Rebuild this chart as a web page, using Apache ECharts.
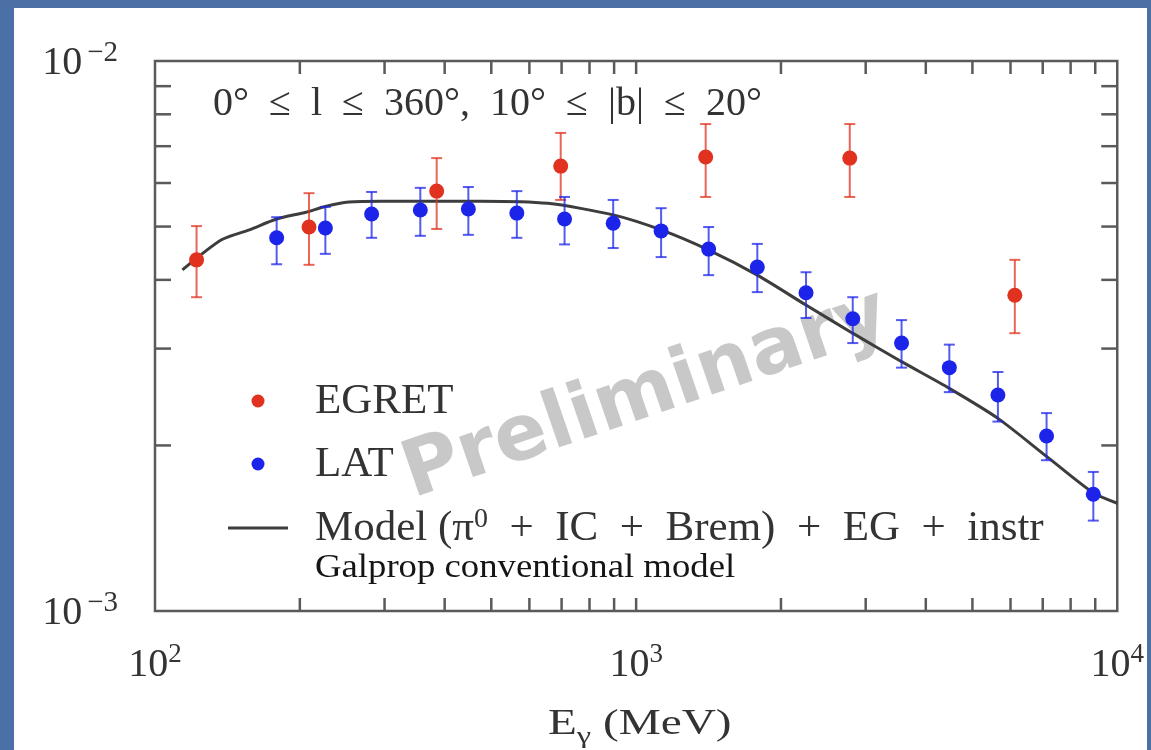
<!DOCTYPE html>
<html>
<head>
<meta charset="utf-8">
<script src="https://cdn.jsdelivr.net/npm/echarts@6/dist/echarts.min.js"></script>
<style>
  html, body { margin: 0; padding: 0; width: 1151px; height: 750px; overflow: hidden; background: #4a70a6; }
  #chart { position: absolute; left: 14px; top: 8px; width: 1133px; height: 742px; background: #ffffff; }
</style>
</head>
<body>
<div id="chart"></div>
<script>
// EGRET measurements: energy (MeV), flux, error-bar low / high
const egretE  = [122, 209, 385, 697, 1395, 2780, 6125];
const egretF  = [4.35e-3, 4.99e-3, 5.80e-3, 6.44e-3, 6.69e-3, 6.66e-3, 3.75e-3];
const egretLo = [3.72e-3, 4.26e-3, 4.95e-3, 5.59e-3, 5.66e-3, 5.66e-3, 3.20e-3];
const egretHi = [5.01e-3, 5.75e-3, 6.66e-3, 7.40e-3, 7.68e-3, 7.68e-3, 4.35e-3];

// LAT measurements
const latE  = [179, 226, 282, 356, 448, 565, 710, 896, 1127, 1415, 1786, 2255, 2820, 3562, 4477, 5649, 7130, 8918];
const latF  = [4.77e-3, 4.97e-3, 5.27e-3, 5.36e-3, 5.38e-3, 5.29e-3, 5.16e-3, 5.07e-3, 4.91e-3,
               4.55e-3, 4.22e-3, 3.79e-3, 3.40e-3, 3.07e-3, 2.77e-3, 2.47e-3, 2.08e-3, 1.63e-3];
const latLo = [4.27e-3, 4.46e-3, 4.77e-3, 4.81e-3, 4.83e-3, 4.77e-3, 4.64e-3, 4.57e-3, 4.40e-3,
               4.08e-3, 3.80e-3, 3.41e-3, 3.07e-3, 2.77e-3, 2.50e-3, 2.21e-3, 1.88e-3, 1.46e-3];
const latHi = [5.20e-3, 5.43e-3, 5.78e-3, 5.88e-3, 5.90e-3, 5.80e-3, 5.66e-3, 5.59e-3, 5.40e-3,
               4.99e-3, 4.65e-3, 4.13e-3, 3.72e-3, 3.38e-3, 3.05e-3, 2.72e-3, 2.29e-3, 1.79e-3];

// Model curve (pi0 + IC + Brem + EG + instr)
const modelE = [114, 137.5, 157, 179, 206, 226, 253, 296, 348, 476, 655, 896, 1127, 1416,
                1786, 2254, 2818, 3563, 4477, 5650, 7130, 8913, 10000];
const modelF = [4.17e-3, 4.73e-3, 4.93e-3, 5.16e-3, 5.31e-3, 5.44e-3, 5.54e-3, 5.56e-3, 5.56e-3,
                5.56e-3, 5.51e-3, 5.25e-3, 4.93e-3, 4.53e-3, 4.08e-3, 3.60e-3, 3.20e-3, 2.84e-3,
                2.54e-3, 2.24e-3, 1.91e-3, 1.64e-3, 1.57e-3];

// Axis ranges and tick positions
const X_MIN = 100, X_MAX = 10000;
const Y_MIN = 0.001, Y_MAX = 0.01;
const xTicks = [200, 300, 400, 500, 600, 700, 800, 900, 1000, 2000, 3000, 4000, 5000, 6000, 7000, 8000, 9000];
const yTicks = [0.002, 0.003, 0.004, 0.005, 0.006, 0.007, 0.008, 0.009];

const SERIF = '"Liberation Serif", "Times New Roman", serif';
const TXT = '#333333';
const AX = '#5a5a5a';
const RED = '#e0321f';
const BLUE = '#1b24e8';
const LINE = '#3d3d3d';

const chart = echarts.init(document.getElementById('chart'), null, { renderer: 'canvas' });

function errorBarItem(color, r) {
  return function (params, api) {
    const x = api.value(0);
    const p = api.coord([x, api.value(1)]);
    const lo = api.coord([x, api.value(2)]);
    const hi = api.coord([x, api.value(3)]);
    const cap = 5.5;
    const bar = { stroke: color, lineWidth: 2, opacity: 0.75 };
    return {
      type: 'group',
      children: [
        { type: 'line', shape: { x1: p[0], y1: lo[1], x2: p[0], y2: hi[1] }, style: bar },
        { type: 'line', shape: { x1: p[0] - cap, y1: lo[1], x2: p[0] + cap, y2: lo[1] }, style: bar },
        { type: 'line', shape: { x1: p[0] - cap, y1: hi[1], x2: p[0] + cap, y2: hi[1] }, style: bar },
        { type: 'circle', shape: { cx: p[0], cy: p[1], r: r }, style: { fill: color } }
      ]
    };
  };
}

// "10" with the decade exponent as a superscript
function powLabel(v) {
  const e = Math.round(Math.log10(v));
  return '{b|10}{s|' + (e < 0 ? '\u2212' + (-e) : e) + '}';
}

const baseTok = { fontFamily: SERIF, fontSize: 40, color: TXT, lineHeight: 44, verticalAlign: 'bottom' };
const xLabelRich = {
  b: baseTok,
  s: { fontFamily: SERIF, fontSize: 27, color: TXT, lineHeight: 27, verticalAlign: 'top' }
};
const yLabelRich = {
  b: baseTok,
  s: { fontFamily: SERIF, fontSize: 29, color: TXT, lineHeight: 27, verticalAlign: 'top', padding: [0, 0, 0, 5] }
};

const option = {
  animation: false,
  backgroundColor: '#ffffff',
  grid: {
    left: 141, top: 53, right: 24, bottom: 139,
    show: true, borderColor: AX, borderWidth: 2.5, backgroundColor: 'transparent'
  },
  xAxis: {
    type: 'log', logBase: 10, min: X_MIN, max: X_MAX,
    axisLine: { show: false }, axisTick: { show: false }, splitLine: { show: false },
    axisLabel: {
      margin: 30, showMinLabel: true, showMaxLabel: true,
      formatter: v => powLabel(v), rich: xLabelRich
    }
  },
  yAxis: {
    type: 'log', logBase: 10, min: Y_MIN, max: Y_MAX,
    axisLine: { show: false }, axisTick: { show: false }, splitLine: { show: false },
    axisLabel: {
      margin: 37, showMinLabel: true, showMaxLabel: true,
      formatter: v => powLabel(v), rich: yLabelRich
    }
  },
  legend: {
    orient: 'vertical', left: 214, top: 372, padding: 0, itemGap: 20,
    itemWidth: 60, itemHeight: 13, selectedMode: false,
    data: [
      { name: 'EGRET', icon: 'circle' },
      { name: 'LAT', icon: 'circle' },
      { name: 'Model', icon: 'path://M0,0 L60,0 L60,3 L0,3 Z', itemStyle: { color: LINE } }
    ],
    formatter: n => n === 'Model'
      ? '{t|Model (\u03c0}{s|0}{t|\u2002+\u2002IC\u2002+\u2002Brem)\u2002+\u2002EG\u2002+\u2002instr}'
      : '{t|' + n + '}',
    textStyle: {
      color: TXT, fontFamily: SERIF, fontSize: 43, padding: [0, 0, 0, 22],
      rich: {
        t: { fontFamily: SERIF, fontSize: 43, color: TXT, lineHeight: 44, verticalAlign: 'bottom' },
        s: { fontFamily: SERIF, fontSize: 28, color: TXT, lineHeight: 28, verticalAlign: 'top' }
      }
    }
  },
  graphic: [
    {
      type: 'text', x: 632, y: 388, rotation: 19 * Math.PI / 180, z: 1, silent: true,
      style: {
        text: 'Preliminary', fill: 'rgba(150,150,150,0.52)',
        font: 'bold 78px "DejaVu Sans", sans-serif',
        align: 'center', verticalAlign: 'middle', textAlign: 'center', textVerticalAlign: 'middle'
      }
    },
    {
      type: 'text', x: 199, y: 96, z: 1, silent: true,
      style: {
        text: '0\u00b0\u2002\u2264\u2002l\u2002\u2264\u2002360\u00b0,\u200210\u00b0\u2002\u2264\u2002|b|\u2002\u2264\u200220\u00b0',
        fill: TXT, font: '40px ' + SERIF,
        align: 'left', verticalAlign: 'middle', textAlign: 'left', textVerticalAlign: 'middle'
      }
    },
    {
      type: 'text', x: 301, y: 560, scaleX: 1.08, z: 1, silent: true,
      style: {
        text: 'Galprop conventional model', fill: '#151515', font: '34px ' + SERIF,
        align: 'left', verticalAlign: 'middle', textAlign: 'left', textVerticalAlign: 'middle'
      }
    },
    {
      type: 'text', x: 534, y: 720, scaleX: 1.35, z: 1, silent: true,
      style: {
        text: '{b|E}{g|\u03b3}{b| (MeV)}',
        align: 'left', verticalAlign: 'middle', textAlign: 'left', textVerticalAlign: 'middle',
        rich: {
          b: { fontFamily: SERIF, fontSize: 35, fill: TXT, color: TXT, lineHeight: 42, verticalAlign: 'top' },
          g: { fontFamily: SERIF, fontSize: 24, fill: TXT, color: TXT, lineHeight: 24, verticalAlign: 'bottom' }
        }
      }
    }
  ],
  series: [
    {
      name: 'Model', type: 'line', z: 3, symbol: 'none', smooth: 0.25, clip: true,
      lineStyle: { color: LINE, width: 3 }, itemStyle: { color: LINE },
      data: modelE.map((e, i) => [e, modelF[i]])
    },
    {
      name: 'EGRET', type: 'custom', z: 4, itemStyle: { color: RED },
      renderItem: errorBarItem(RED, 7.5),
      encode: { x: 0, y: 1 },
      data: egretE.map((e, i) => [e, egretF[i], egretLo[i], egretHi[i]])
    },
    {
      name: 'LAT', type: 'custom', z: 5, itemStyle: { color: BLUE },
      renderItem: errorBarItem(BLUE, 7.5),
      encode: { x: 0, y: 1 },
      data: latE.map((e, i) => [e, latF[i], latLo[i], latHi[i]])
    },
    {
      name: 'xTicks', type: 'custom', z: 6, silent: true,
      encode: { x: 0, y: 1 },
      data: xTicks.map(v => [v, Y_MIN]),
      renderItem: function (params, api) {
        const v = api.value(0);
        const b = api.coord([v, Y_MIN]);
        const t = api.coord([v, Y_MAX]);
        const len = 13, st = { stroke: AX, lineWidth: 2.5 };
        return {
          type: 'group', children: [
            { type: 'line', shape: { x1: b[0], y1: b[1], x2: b[0], y2: b[1] - len }, style: st },
            { type: 'line', shape: { x1: t[0], y1: t[1], x2: t[0], y2: t[1] + len }, style: st }
          ]
        };
      }
    },
    {
      name: 'yTicks', type: 'custom', z: 6, silent: true,
      encode: { x: 0, y: 1 },
      data: yTicks.map(v => [X_MIN, v]),
      renderItem: function (params, api) {
        const v = api.value(1);
        const l = api.coord([X_MIN, v]);
        const r = api.coord([X_MAX, v]);
        const len = 16, st = { stroke: AX, lineWidth: 2.5 };
        return {
          type: 'group', children: [
            { type: 'line', shape: { x1: l[0], y1: l[1], x2: l[0] + len, y2: l[1] }, style: st },
            { type: 'line', shape: { x1: r[0], y1: r[1], x2: r[0] - len, y2: r[1] }, style: st }
          ]
        };
      }
    }
  ]
};

chart.setOption(option);
</script>
</body>
</html>
